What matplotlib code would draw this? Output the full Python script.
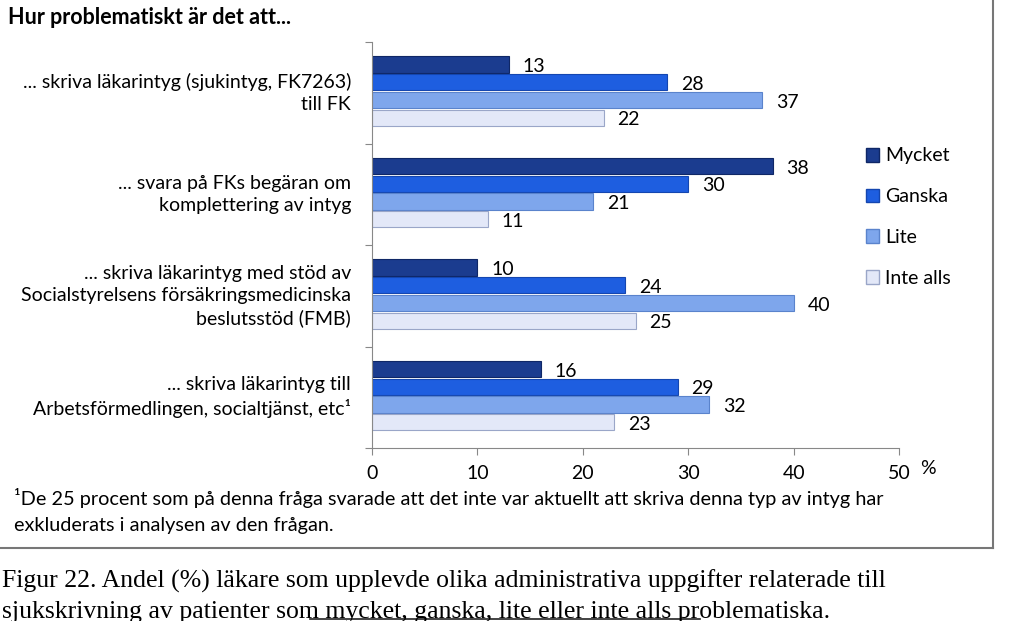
import matplotlib.pyplot as plt
import numpy as np
from matplotlib.patches import Rectangle
from matplotlib.lines import Line2D

categories = [
    "... skriva läkarintyg (sjukintyg, FK7263)\ntill FK",
    "... svara på FKs begäran om\nkomplettering av intyg",
    "... skriva läkarintyg med stöd av\nSocialstyrelsens försäkringsmedicinska\nbeslutsstöd (FMB)",
    "... skriva läkarintyg till\nArbetsförmedlingen, socialtjänst, etc¹",
]
series = ["Mycket", "Ganska", "Lite", "Inte alls"]
mycket = [13, 38, 10, 16]
ganska = [28, 30, 24, 29]
lite = [37, 21, 40, 32]
inte_alls = [22, 11, 25, 23]
xticks = [0, 10, 20, 30, 40, 50]

colors = ["#1b3c8f", "#1e5ee0", "#7ea6ec", "#e3e8f8"]
edges = ["#0f2766", "#1446b0", "#5a83cc", "#9aa6c8"]

plt.rcParams["font.family"] = ["Lato", "DejaVu Sans"]

fig = plt.figure(figsize=(10.24, 6.21), dpi=100)
ax = fig.add_axes([372 / 1024, 1 - 448 / 621, 527 / 1024, 406 / 621])

values = [mycket, ganska, lite, inte_alls]
y = np.arange(len(categories))
step = 0.175
h = 0.16
for i, (name, vals) in enumerate(zip(series, values)):
    pos = y + (i - 1.5) * step - 0.015
    ax.barh(pos, vals, height=h, color=colors[i], edgecolor=edges[i],
            linewidth=0.8, label=name)
    for p, v in zip(pos, vals):
        ax.text(v + 1.3, p + 0.02, str(v), va="center", ha="left", fontsize=14)

ax.set_xlim(0, 50)
ax.set_ylim(len(categories) - 0.5, -0.5)
ax.set_xticks(xticks)
ax.set_xticklabels([str(t) for t in xticks], fontsize=14)
ax.set_yticks(np.arange(-0.5, len(categories), 1.0), minor=False)
ax.set_yticklabels([])
ax.tick_params(axis="y", length=5, color="#888888")
ax.tick_params(axis="x", length=5, color="#888888", pad=7)
for s in ["top", "right"]:
    ax.spines[s].set_visible(False)
for s in ["left", "bottom"]:
    ax.spines[s].set_color("#888888")

for i, c in enumerate(categories):
    ax.text(-0.04, i, c, transform=ax.get_yaxis_transform(), ha="right",
            va="center", fontsize=14, linespacing=1.35)

fig.text(928 / 1024, 1 - 468 / 621, "%", fontsize=14, ha="center", va="center")
fig.text(8 / 1024, 1 - 18 / 621, "Hur problematiskt är det att...",
         fontsize=15.5, fontweight="bold", va="center")

handles = [Rectangle((0, 0), 1, 1, facecolor=colors[i], edgecolor=edges[i])
           for i in range(4)]
fig.legend(handles, series, loc="upper left", bbox_to_anchor=(848 / 1024, 1 - 130 / 621),
           frameon=False, fontsize=14, handlelength=0.7, handleheight=0.7,
           handletextpad=0.3, labelspacing=1.22)

fig.text(14 / 1024, 1 - 498 / 621,
         "¹De 25 procent som på denna fråga svarade att det inte var aktuellt att skriva denna typ av intyg har",
         fontsize=14.3, va="center")
fig.text(14 / 1024, 1 - 525 / 621, "exkluderats i analysen av den frågan.",
         fontsize=14.3, va="center")

# frame around chart area (right and bottom visible)
fig.add_artist(Line2D([993 / 1024, 993 / 1024], [1, 1 - 548 / 621],
                      transform=fig.transFigure, color="#777777", lw=1.5))
fig.add_artist(Line2D([0, 993 / 1024], [1 - 548 / 621, 1 - 548 / 621],
                      transform=fig.transFigure, color="#777777", lw=1.5))

fig.text(2 / 1024, 1 - 581 / 621,
         "Figur 22. Andel (%) läkare som upplevde olika administrativa uppgifter relaterade till",
         fontsize=18.5, family="Liberation Serif", va="center")
fig.text(2 / 1024, 1 - 612 / 621,
         "sjukskrivning av patienter som mycket, ganska, lite eller inte alls problematiska.",
         fontsize=18.5, family="Liberation Serif", va="center")
fig.add_artist(Line2D([310 / 1024, 700 / 1024], [1 - 619 / 621, 1 - 619 / 621],
                      transform=fig.transFigure, color="#222222", lw=1.2))

fig.savefig("out.png", dpi=100)
